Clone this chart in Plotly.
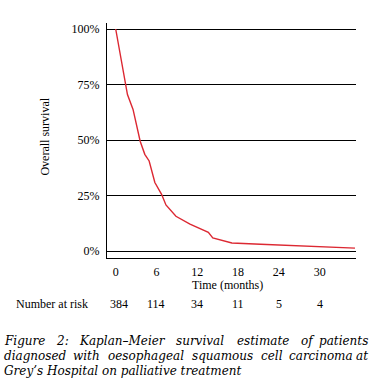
import plotly.graph_objects as go

# ---- data ----
time_months = [0, 1.48, 1.73, 2.55, 3.6, 4.28, 4.92, 5.76, 6.75, 7.39, 8.86, 10.93, 13.63, 14.28, 17.09, 21.3, 35.2]
survival_pct = [100, 74.9, 70.5, 63.8, 49.5, 43.6, 40.6, 30.9, 25.6, 20.8, 15.7, 12.2, 8.5, 6.0, 3.7, 3.1, 1.4]

x_ticks = [0, 6, 12, 18, 24, 30]
y_ticks = [0, 25, 50, 75, 100]
y_tick_labels = ["0%", "25%", "50%", "75%", "100%"]

risk_times = [0, 6, 12, 18, 24, 30]
number_at_risk = [384, 114, 34, 11, 5, 4]

caption_lines = [
    "Figure 2: Kaplan\u2013Meier survival estimate of patients",
    "diagnosed with oesophageal squamous cell carcinoma at",
    "Grey\u2019s Hospital on palliative treatment",
]

# ---- layout geometry (pixels) ----
W, H = 382, 384
PL, PR, PT, PB = 107.3, 355.7, 23.3, 258.5

def px(X):
    return (X - PL) / (PR - PL)

def py(Y):
    return (PB - Y) / (PB - PT)

SERIF = "Liberation Serif, Times New Roman, serif"
CAP_FONT = "DejaVu Serif"

fig = go.Figure()
fig.add_trace(go.Scatter(
    x=time_months, y=survival_pct, mode="lines",
    line=dict(color="#dc2832", width=1.4), hoverinfo="skip", showlegend=False,
))

annotations = []
# axis titles
annotations.append(dict(text="Time (months)", x=px(227.7), y=py(285.5), xref="paper", yref="paper",
                        showarrow=False, xanchor="center", yanchor="middle",
                        font=dict(family=SERIF, size=12, color="black")))
annotations.append(dict(text="Overall survival", x=px(45.7), y=py(136.7), xref="paper", yref="paper",
                        showarrow=False, textangle=-90, xanchor="center", yanchor="middle",
                        font=dict(family=SERIF, size=12, color="black")))
# number at risk
annotations.append(dict(text="Number at risk", x=px(52.7), y=py(304.5), xref="paper", yref="paper",
                        showarrow=False, xanchor="center", yanchor="middle",
                        font=dict(family=SERIF, size=12, color="black")))
for t, n in zip(risk_times, number_at_risk):
    annotations.append(dict(text=str(n), x=t, y=py(304.5), xref="x", yref="paper",
                            showarrow=False, xanchor="center", yanchor="middle",
                            xshift=3 if t == 0 else 0,
                            font=dict(family=SERIF, size=12, color="black")))

# caption, justified by word placement for the first two lines
word_starts = [
    [2.7, 54, 77.3, 174, 234.5, 298.5, None],
    [2.7, 71.7, 106, 190, 258.5, 287, None],
]
line_y = [342.0, 357.0, 372.0]
for i, line in enumerate(caption_lines):
    if i < 2:
        words = line.split(" ")
        for j, w in enumerate(words):
            if j == len(words) - 1:
                annotations.append(dict(text=w, x=px(369.5), y=py(line_y[i]), xref="paper", yref="paper",
                                        showarrow=False, xanchor="right", yanchor="middle",
                                        font=dict(family=CAP_FONT, size=12, color="black", style="italic")))
            else:
                annotations.append(dict(text=w, x=px(word_starts[i][j]), y=py(line_y[i]), xref="paper", yref="paper",
                                        showarrow=False, xanchor="left", yanchor="middle",
                                        font=dict(family=CAP_FONT, size=12, color="black", style="italic")))
    else:
        annotations.append(dict(text=line, x=px(2.7), y=py(line_y[i]), xref="paper", yref="paper",
                                showarrow=False, xanchor="left", yanchor="middle",
                                font=dict(family=CAP_FONT, size=12, color="black", style="italic")))

fig.update_layout(
    width=W, height=H,
    margin=dict(l=PL, r=W - PR, t=PT, b=H - PB, pad=0),
    paper_bgcolor="white", plot_bgcolor="white",
    showlegend=False,
    annotations=annotations,
    font=dict(family=SERIF, size=12, color="black"),
    xaxis=dict(range=[-1.28, 35.35], tickvals=x_ticks, ticktext=[str(v) for v in x_ticks],
               showgrid=False, zeroline=False, showline=True, linecolor="black", linewidth=1.3,
               ticks="", ticklabelstandoff=2, tickfont=dict(family=SERIF, size=12, color="black"),
               fixedrange=True),
    yaxis=dict(range=[-3.06, 102.7], tickvals=y_ticks, ticktext=y_tick_labels,
               showgrid=True, gridcolor="black", gridwidth=1.3, zeroline=False,
               showline=True, linecolor="black", linewidth=1.3,
               ticks="", ticklabelstandoff=4, tickfont=dict(family=SERIF, size=12, color="black"),
               fixedrange=True),
)

fig.write_html("out.html", config={"displayModeBar": False},
               post_script="document.body.style.margin='0px';document.body.style.overflow='hidden';")
